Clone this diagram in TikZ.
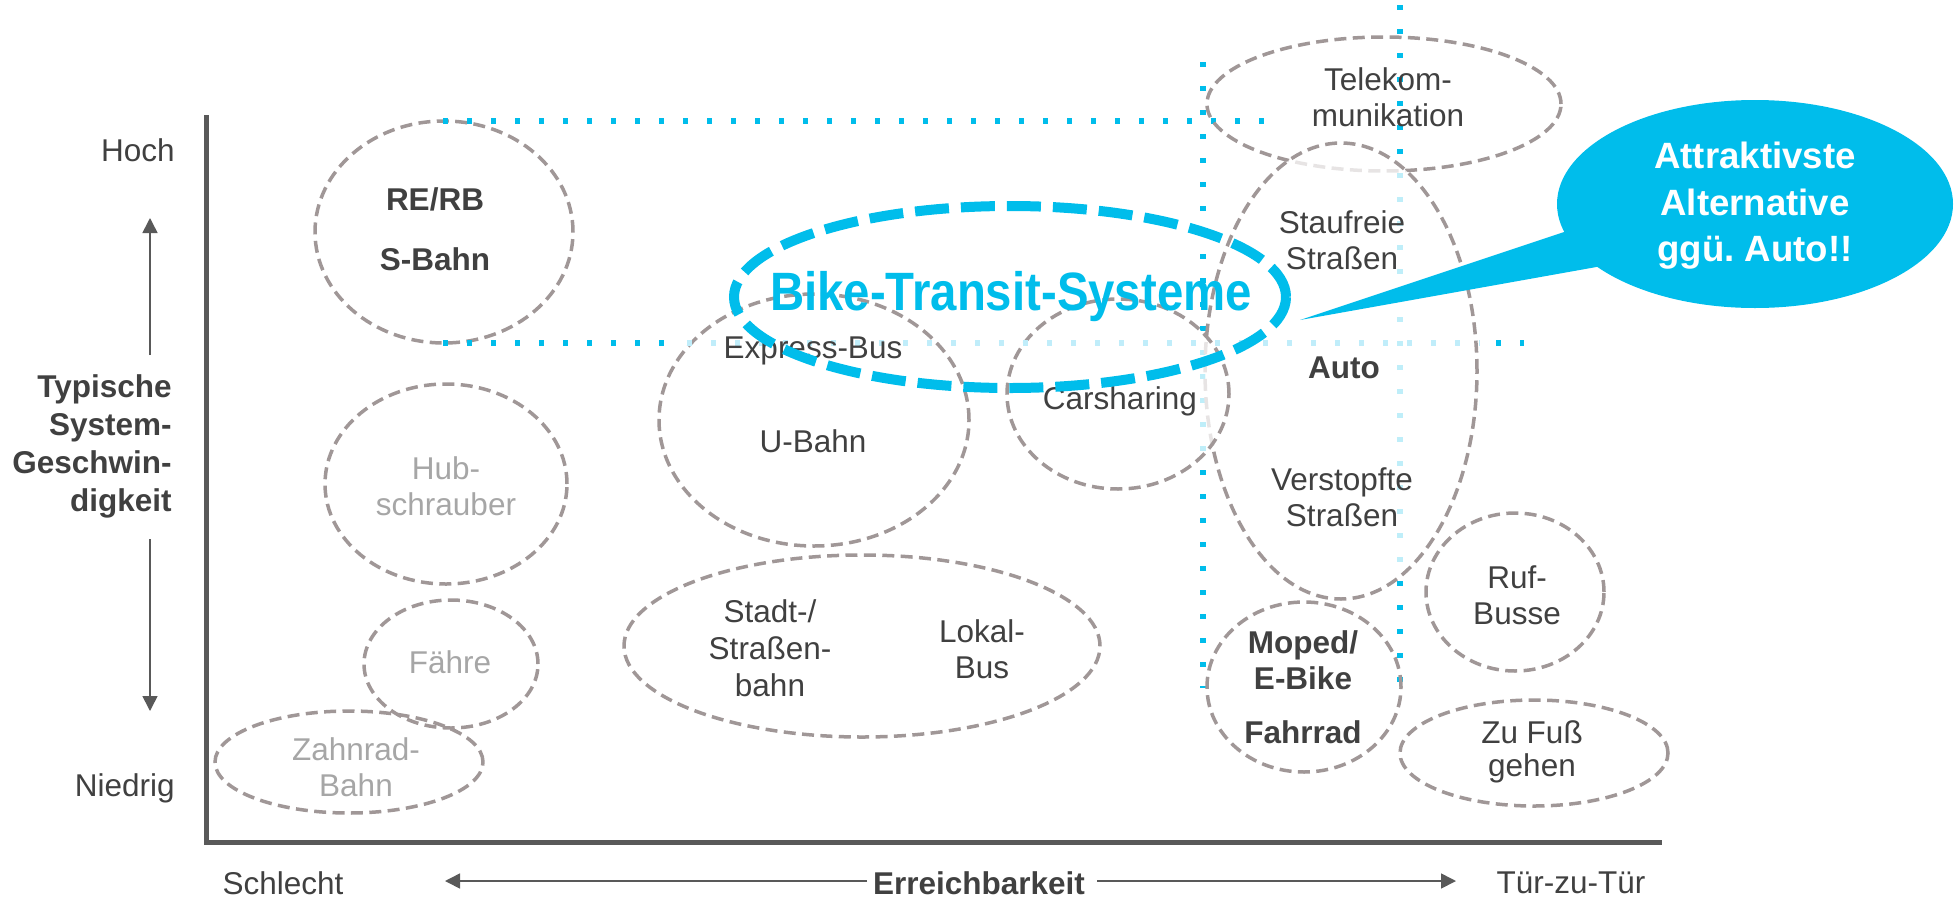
\documentclass[tikz,border=0pt]{standalone}
\usepackage{fontspec}
\setmainfont{Liberation Sans}
\newfontfamily\btsfont[FakeStretch=0.877]{Liberation Sans}
\usetikzlibrary{arrows.meta}

\definecolor{txtgray}{RGB}{64,64,64}
\definecolor{softgray}{RGB}{166,166,166}
\definecolor{ringgray}{RGB}{160,151,151}
\definecolor{axisgray}{RGB}{89,89,89}
\definecolor{btsblue}{RGB}{0,189,235}
\definecolor{paleblue}{RGB}{192,237,250}

\tikzset{
	lbl/.style={font=\fontsize{15.75}{18}\selectfont, text=txtgray, inner sep=0pt, align=center},
	lblb/.style={lbl, font=\fontsize{15.75}{18}\selectfont\bfseries},
	soft/.style={lbl, text=softgray},
	ring/.style={draw=ringgray, line width=1.75pt, dash pattern=on 6pt off 3.2pt},
	veil/.style={ring, fill=white, fill opacity=0.75},
	guide/.style={draw=btsblue, line width=2.6pt, dash pattern=on 2.6pt off 9.4pt},
	guidepale/.style={guide, draw=paleblue},
	axisline/.style={draw=axisgray, line width=2.5pt},
	dirarrow/.style={draw=axisgray, line width=0.8pt, -{Triangle[length=7.5pt,width=7.5pt]}},
}

\begin{document}
\begin{tikzpicture}[x=0.5pt, y=0.5pt]
			%%%%% START %%%%%
			\useasboundingbox (0,0) rectangle (1955,-900);
			
			% axes
			\coordinate (ytop) at (206,-115);
			\coordinate (orig) at (206,-842);
			\coordinate (xend) at (1662,-842);
			\draw[axisline] (ytop) -- (orig) -- (xend);
			
			% speed axis
			\node[lbl, anchor=east] (hoch) at (175,-150) {Hoch};
			\node[lblb, anchor=east, align=right, font=\fontsize{15.75}{19}\selectfont\bfseries] (speed) at (172,-446) {Typische\\System-\\Geschwin-\\digkeit};
			\node[lbl, anchor=east] (niedrig) at (175,-788) {Niedrig};
			\coordinate (upfrom) at (150,-355);
			\coordinate (upto) at (150,-218);
			\coordinate (dnfrom) at (150,-539);
			\coordinate (dnto) at (150,-711);
			\draw[dirarrow] (upfrom) -- (upto);
			\draw[dirarrow] (dnfrom) -- (dnto);
			
			% reach axis
			\node[lbl] (schlecht) at (283,-883) {Schlecht};
			\node[lblb] (reach) at (979,-883) {Erreichbarkeit};
			\node[lbl] (door) at (1571,-883) {Tür-zu-Tür};
			\coordinate (lfrom) at (867,-881);
			\coordinate (lto) at (445,-881);
			\coordinate (rfrom) at (1097,-881);
			\coordinate (rto) at (1456,-881);
			\draw[dirarrow] (lfrom) -- (lto);
			\draw[dirarrow] (rfrom) -- (rto);
			
			% rail ring sits under the guides
			\draw[ring] (444,-232) ellipse [x radius=129, y radius=111];
			
			% guides
			\draw[guide] (443,-121) -- (1269,-121);
			\draw[guide] (1203,-62) -- (1203,-688);
			\draw[guide] (1400,-5) -- (1400,-682);
			
			% modes
			\draw[ring] (446,-484) ellipse [x radius=121, y radius=100];
			\draw[ring] (451,-664) ellipse [x radius=87, y radius=64];
			\draw[ring] (349,-762) ellipse [x radius=134, y radius=51];
			\draw[ring] (814,-420) ellipse [x radius=155, y radius=126];
			\draw[ring] (862,-646) ellipse [x radius=238, y radius=91];
			\draw[ring] (1384,-104) ellipse [x radius=177, y radius=67];
			\draw[ring] (1515,-592) ellipse [x radius=89, y radius=79];
			\draw[ring] (1304,-687) ellipse [x radius=97, y radius=85];
			\draw[ring] (1534,-753) ellipse [x radius=134, y radius=53];
			\draw[veil] (1341,-371) ellipse [x radius=136, y radius=228];
			\draw[veil] (1118,-394) ellipse [x radius=111, y radius=95];
			
			% middle guide, pale where it crosses the rings
			\draw[guide] (443,-343) -- (675,-343);
			\draw[guidepale] (687,-343) -- (1480,-343);
			\draw[guide] (1496,-343) -- (1524,-343);
			
			\node[lblb] (rerb) at (435,-199) {RE/RB};
			\node[lblb] (sbahn) at (435,-259) {S-Bahn};
			\node[soft] (hub) at (446,-486) {Hub-\\schrauber};
			\node[soft] (faehre) at (450,-662) {Fähre};
			\node[soft] (zahnrad) at (356,-767) {Zahnrad-\\Bahn};
			\node[lbl] (express) at (813,-351) {Express-Bus};
			\node[lbl] (ubahn) at (813,-441) {U-Bahn};
			\node[lbl] (carsharing) at (1120,-401) {Carsharing};
			\node[lbl, font=\fontsize{15.75}{18.5}\selectfont] (tram) at (770,-648) {Stadt-/\\Straßen-\\bahn};
			\node[lbl] (lokalbus) at (982,-649) {Lokal-\\Bus};
			\node[lbl] (telekom) at (1388,-97) {Telekom-\\munikation};
			\node[lbl] (staufrei) at (1342,-240) {Staufreie\\Straßen};
			\node[lblb] (auto) at (1344,-368) {Auto};
			\node[lbl] (verstopft) at (1342,-497) {Verstopfte\\Straßen};
			\node[lbl] (ruf) at (1517,-595) {Ruf-\\Busse};
			\node[lblb] (moped) at (1303,-660) {Moped/\\E-Bike};
			\node[lblb] (fahrrad) at (1303,-732) {Fahrrad};
			\node[lbl, font=\fontsize{15.75}{16.5}\selectfont] (fuss) at (1532,-752) {Zu Fuß\\gehen};
			
			% bike transit
			\draw[btsblue, line width=5pt, dash pattern=on 17pt off 6pt] (1010,-297) ellipse [x radius=276, y radius=91];
			\node[inner sep=0pt, text=btsblue, font=\btsfont\fontsize{27}{30}\selectfont\bfseries] (bts) at (1011,-297) {Bike-Transit-Systeme};
			
			% callout
			\coordinate (tip) at (1300,-320);
			\fill[btsblue] (tip) -- (1600,-220) -- (1630,-261) -- cycle;
			\fill[btsblue] (1755,-204) ellipse [x radius=198, y radius=104];
			\node[inner sep=0pt, align=center, text=white, font=\fontsize{18.3}{23.25}\selectfont\bfseries] (bubble) at (1755,-206) {Attraktivste\\Alternative\\ggü.\ Auto!!};
			
			%%%%% END %%%%%
\end{tikzpicture}
\end{document}
